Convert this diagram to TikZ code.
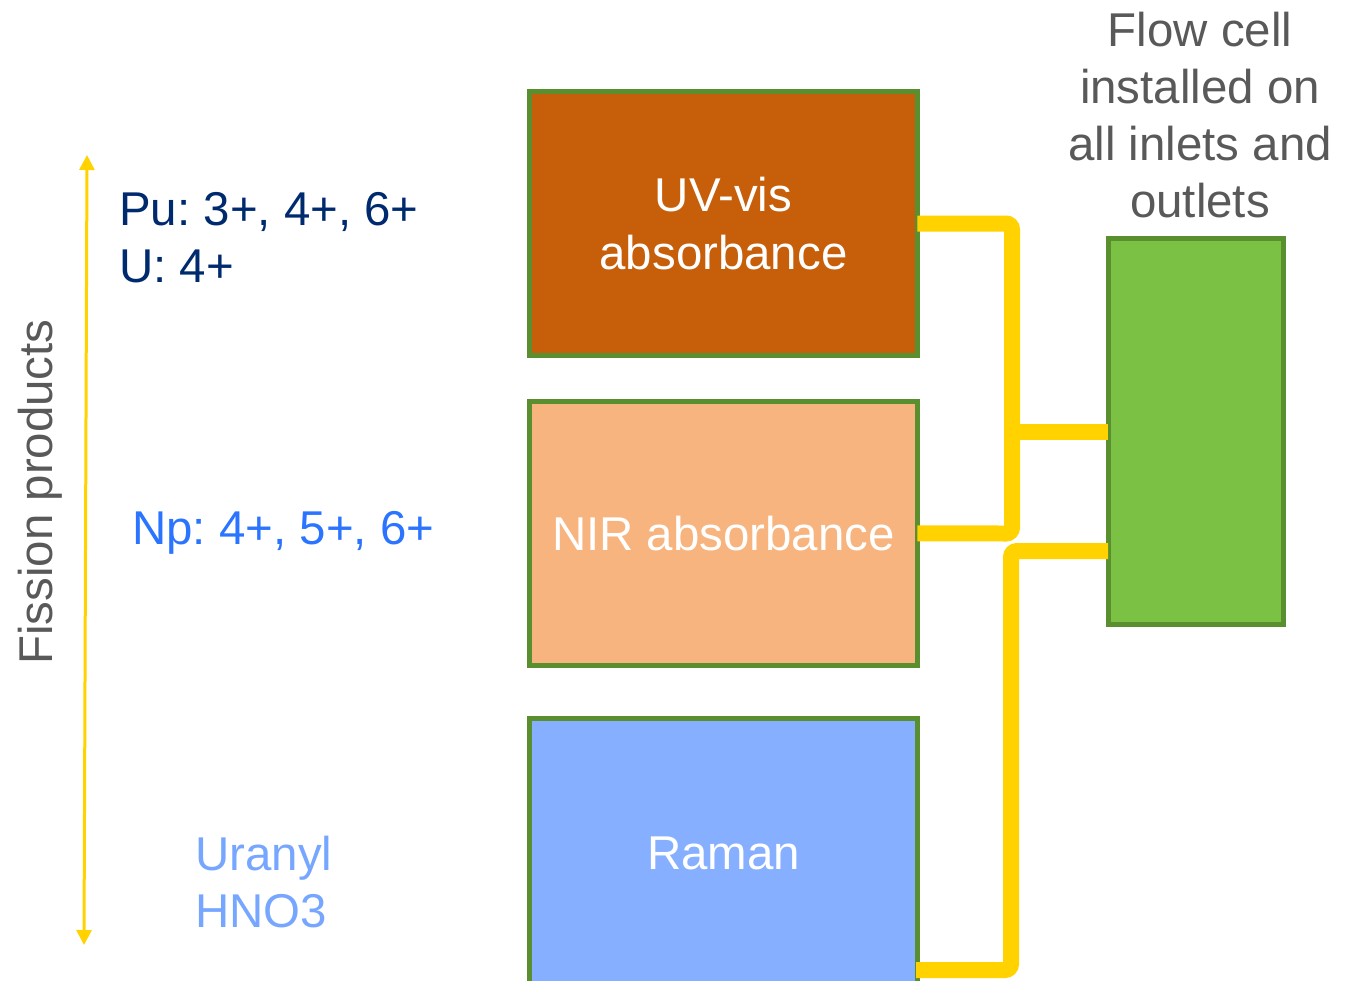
\documentclass[tikz,border=0pt]{standalone}
\usepackage{fontspec}
\setmainfont{Liberation Sans}
\usepackage{xcolor}
\usepackage{tikz}
\usetikzlibrary{positioning,arrows.meta}
\definecolor{cellGreen}{HTML}{7BC143}
\definecolor{cellEdge}{HTML}{5A8F30}
\definecolor{uvOrange}{HTML}{C75E0A}
\definecolor{nirPeach}{HTML}{F8B47E}
\definecolor{ramanBlue}{HTML}{86B0FF}
\definecolor{pipeYellow}{HTML}{FFD200}
\definecolor{labelGray}{HTML}{595959}
\definecolor{puNavy}{HTML}{002A6E}
\definecolor{npBlue}{HTML}{2A74FF}
\definecolor{uranylBlue}{HTML}{77A6FF}

\begin{document}
\frenchspacing
\begin{tikzpicture}[x=0.02cm, y=-0.02cm, font=\fontsize{27}{32.5}\selectfont,
  box/.style={rectangle, draw=cellEdge, line width=0.1cm, outer sep=0pt, minimum width=7.76cm, minimum height=5.28cm, text=white, align=center},
  pipe/.style={draw=pipeYellow, line width=0.32cm, rounded corners=0.12cm},
  ion/.style={align=left, inner sep=0pt, anchor=west}]
\useasboundingbox (0,0) rectangle (1357,981);

% measurement boxes
\node[box, fill=uvOrange] (uv) at (723.5,223.5) {UV-vis\\absorbance};
\node[box, fill=nirPeach, below=0.92cm of uv] (nir) {NIR absorbance};
\node[box, fill=ramanBlue, minimum height=5.4cm, below=1.06cm of nir] (raman) {Raman};

% flow cell
\node[rectangle, draw=cellEdge, fill=cellGreen, line width=0.1cm, outer sep=0pt, minimum width=3.52cm, minimum height=7.72cm] (flowcell) at (1196,431.5) {};
\node[text=labelGray, align=center] (flowtext) at (1200,115) {Flow cell\\installed on\\all inlets and\\outlets};

% species
\node[ion, text=puNavy] (pu) at (119,238) {Pu: 3+, 4+, 6+\\U: 4+};
\node[ion, text=npBlue] (np) at (132,533) {Np: 4+, 5+, 6+};
\node[ion, text=uranylBlue] (uranyl) at (195,882) {Uranyl\\HNO3};

% fission products axis
\coordinate (fptop) at (87,155);
\coordinate (fpbot) at (84,945);
\draw[{Triangle[length=0.3cm,width=0.3cm]}-{Triangle[length=0.3cm,width=0.3cm]}, line width=0.06cm, pipeYellow] (fpbot) -- (fptop);
\node[rotate=90, text=labelGray] (fplabel) at (40,492) {Fission products};

% tubing
\coordinate (cellin) at (1108,551);
\coordinate (ramanout) at (916,970);
\draw[pipe] (uv.east) -- (1012,223.5) -- (1012,533.5) -- (nir.east);
\draw[pipe] (1012,431.5) -- (flowcell.west);
\draw[pipe] (cellin) -- (1011,551) -- (1011,970) -- (ramanout);
\end{tikzpicture}
\end{document}
